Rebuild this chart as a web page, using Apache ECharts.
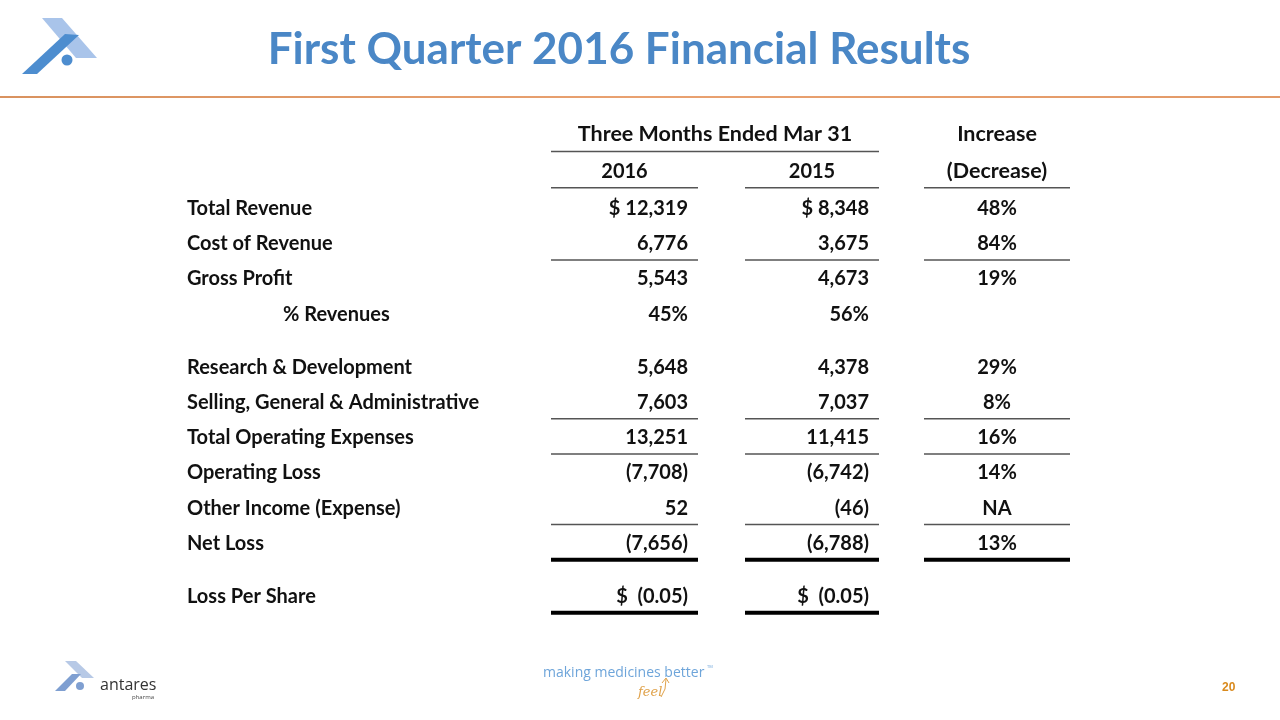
<!DOCTYPE html>
<html><head><meta charset="utf-8">
<script src="https://cdn.jsdelivr.net/npm/echarts@6/dist/echarts.min.js"></script>
<style>html,body{margin:0;padding:0;background:#fff}#c{width:1280px;height:720px}</style>
</head><body><div id="c"></div>
<script>
// ---- data ----
const titleText = 'First Quarter 2016 Financial Results';
const headerGroup = 'Three Months Ended Mar 31';
const headerChange = ['Increase', '(Decrease)'];
const years = ['2016', '2015'];
const rowLabels = ['Total Revenue', 'Cost of Revenue', 'Gross Profit', '% Revenues',
  'Research & Development', 'Selling, General & Administrative', 'Total Operating Expenses',
  'Operating Loss', 'Other Income (Expense)', 'Net Loss', 'Loss Per Share'];
const rowKinds = ['usd', 'num', 'num', 'pct', 'num', 'num', 'num', 'num', 'num', 'num', 'eps'];
const values2016 = [12319, 6776, 5543, 45, 5648, 7603, 13251, -7708, 52, -7656, -0.05];
const values2015 = [8348, 3675, 4673, 56, 4378, 7037, 11415, -6742, -46, -6788, -0.05];
const changePct = [48, 84, 19, null, 29, 8, 16, 14, 'NA', 13, null];
const gapBefore = [0, 0, 0, 0, 1, 0, 0, 0, 0, 0, 1];       // blank half-row spacers
const indented = [0, 0, 0, 1, 0, 0, 0, 0, 0, 0, 0];
const ruleBelow = ['', 'thin', '', '', '', 'thin', 'thin', '', 'thin', 'thick', 'thick2'];

// ---- layout ----
const L = {
  font: 'Lato, "Noto Sans", sans-serif', size: 20, headSize: 21.5,
  labelX: 187, indentX: 283,
  cols: [[551, 698], [745, 879], [924, 1070]],
  pad: 10, textDy: 1.5,
  firstY: 207, lastY: 595, headerSlots: [-2.1, -1.05]
};

function fmt(v, kind) {
  if (v === null) return '';
  if (typeof v === 'string') return v;
  if (kind === 'pct') return v + '%';
  if (kind === 'eps') return '$  (' + Math.abs(v).toFixed(2) + ')';
  const s = Math.abs(v).toLocaleString('en-US');
  const t = v < 0 ? '(' + s + ')' : s;
  return kind === 'usd' ? '$ ' + t : t;
}

// row slots
const slots = [];
let acc = 0;
rowLabels.forEach((r, i) => { acc += gapBefore[i] * 0.5; slots.push(i + acc); });

// text cells: [x, slot, text, align, isHeader]
const cells = [];
const mid = c => (c[0] + c[1]) / 2;
cells.push([(L.cols[0][0] + L.cols[1][1]) / 2, L.headerSlots[0], headerGroup, 'center', 1]);
cells.push([mid(L.cols[2]), L.headerSlots[0], headerChange[0], 'center', 1]);
years.forEach((y, j) => cells.push([mid(L.cols[j]), L.headerSlots[1], y, 'center', 0]));
cells.push([mid(L.cols[2]), L.headerSlots[1], headerChange[1], 'center', 1]);
rowLabels.forEach((r, i) => {
  const s = slots[i];
  cells.push([indented[i] ? L.indentX : L.labelX, s, r, 'left', 0]);
  [values2016, values2015].forEach((arr, j) => {
    cells.push([L.cols[j][1] - L.pad, s, fmt(arr[i], rowKinds[i]), 'right', 0]);
  });
  const c = changePct[i];
  if (c !== null) cells.push([mid(L.cols[2]), s, typeof c === 'string' ? c : c + '%', 'center', 0]);
});

// rules: [x1, x2, slotY, weight]
const rules = [];
rules.push([L.cols[0][0], L.cols[1][1], (L.headerSlots[0] + L.headerSlots[1]) / 2, 1.5]);
L.cols.forEach(c => rules.push([c[0], c[1], L.headerSlots[1] / 2 - 0.02, 1.5]));
rowLabels.forEach((r, i) => {
  const k = ruleBelow[i]; if (!k) return;
  const n = k === 'thick2' ? 2 : 3;
  for (let j = 0; j < n; j++) rules.push([L.cols[j][0], L.cols[j][1], slots[i] + 0.5, k === 'thin' ? 1.5 : 4]);
});

const lastSlot = slots[slots.length - 1];
const unit = (L.lastY - L.firstY) / lastSlot;
const chart = echarts.init(document.getElementById('c'), null, { renderer: 'canvas' });

chart.setOption({
  animation: false,
  backgroundColor: '#fff',
  grid: { left: 0, right: 0, top: L.firstY - 3 * unit, height: (lastSlot + 5) * unit },
  xAxis: { type: 'value', min: 0, max: 1280, show: false },
  yAxis: { type: 'value', inverse: true, min: -3, max: lastSlot + 2, show: false },
  series: [
    {
      type: 'custom', data: rules, silent: true,
      renderItem: (params, api) => {
        const a = api.coord([api.value(0), api.value(2)]);
        const b = api.coord([api.value(1), api.value(2)]);
        const w = api.value(3);
        return { type: 'line', shape: { x1: a[0], y1: a[1], x2: b[0], y2: b[1] },
          style: { stroke: w > 2 ? '#000' : '#555', lineWidth: w } };
      }
    },
    {
      type: 'custom', data: cells, silent: true,
      encode: { x: 0, y: 1 },
      renderItem: (params, api) => {
        const d = cells[params.dataIndex];
        const p = api.coord([d[0], d[1]]);
        return { type: 'text', style: { x: p[0], y: p[1] + L.textDy, text: d[2], align: d[3], verticalAlign: 'middle',
          fontFamily: L.font, fontSize: d[4] ? L.headSize : L.size, fontWeight: 'bold', fill: '#111' } };
      }
    }
  ],
  graphic: [
    { type: 'text', x: 619, y: 50, style: { text: titleText, fontFamily: L.font, fontSize: 44, fontWeight: 'bold',
      align: 'center', verticalAlign: 'middle',
      fill: '#4a87c6', shadowColor: 'rgba(0,0,0,0.35)', shadowBlur: 3, shadowOffsetX: 2, shadowOffsetY: 2 } },
    { type: 'rect', shape: { x: 0, y: 96, width: 1280, height: 2 },
      style: { fill: new echarts.graphic.LinearGradient(0, 0, 1, 0, [
        { offset: 0, color: '#d9925f' }, { offset: 0.5, color: '#e9a170' }, { offset: 1, color: '#e39a68' }]) } },
    // top logo
    { type: 'polygon', shape: { points: [[42, 18], [62, 18], [97, 58], [76, 58]] }, style: { fill: '#a9c4ea' } },
    { type: 'polygon', shape: { points: [[65, 34], [79, 35], [37, 74], [22, 74]] }, style: { fill: '#4d8dcf' } },
    { type: 'circle', shape: { cx: 67, cy: 60, r: 5.5 }, style: { fill: '#4d8dcf' } },
    // footer logo
    { type: 'polygon', shape: { points: [[65, 661], [76, 661], [94, 678], [82, 678]] }, style: { fill: '#b7c9e6' } },
    { type: 'polygon', shape: { points: [[72, 674], [81, 674], [65, 691], [55, 691]] }, style: { fill: '#7f9fd1' } },
    { type: 'circle', shape: { cx: 80, cy: 686, r: 4 }, style: { fill: '#7f9fd1' } },
    { type: 'text', x: 100, y: 685, style: { text: 'antares', fontFamily: '"Open Sans", sans-serif', fontSize: 16,
      fill: '#333', verticalAlign: 'middle' } },
    { type: 'text', x: 132, y: 697, style: { text: 'pharma', fontFamily: '"Open Sans", sans-serif', fontSize: 6,
      fill: '#444', verticalAlign: 'middle' } },
    { type: 'text', x: 543, y: 673, style: { text: 'making medicines better', fontFamily: '"Open Sans", sans-serif',
      fontSize: 14, fill: '#6ea5da', verticalAlign: 'middle' } },
    { type: 'text', x: 707, y: 667, style: { text: 'TM', fontFamily: '"Open Sans", sans-serif', fontSize: 4,
      fill: '#6ea5da', verticalAlign: 'middle' } },
    { type: 'text', x: 638, y: 693, style: { text: 'feel', fontFamily: '"DejaVu Serif", serif', fontStyle: 'italic',
      fontSize: 13, fill: '#e0a24a', verticalAlign: 'middle' } },
    { type: 'polyline', shape: { points: [[661, 697], [665, 689], [666, 679]] }, style: { stroke: '#e0a24a', lineWidth: 1, fill: null } },
    { type: 'polyline', shape: { points: [[662, 683], [666, 678], [669, 683]] }, style: { stroke: '#e0a24a', lineWidth: 1, fill: null } },
    { type: 'text', x: 1222, y: 688, style: { text: '20', fontFamily: '"Liberation Sans Narrow", "Liberation Sans", sans-serif',
      fontWeight: 'bold', fontSize: 12, fill: '#d98a1e', verticalAlign: 'middle' } }
  ]
});
</script></body></html>
